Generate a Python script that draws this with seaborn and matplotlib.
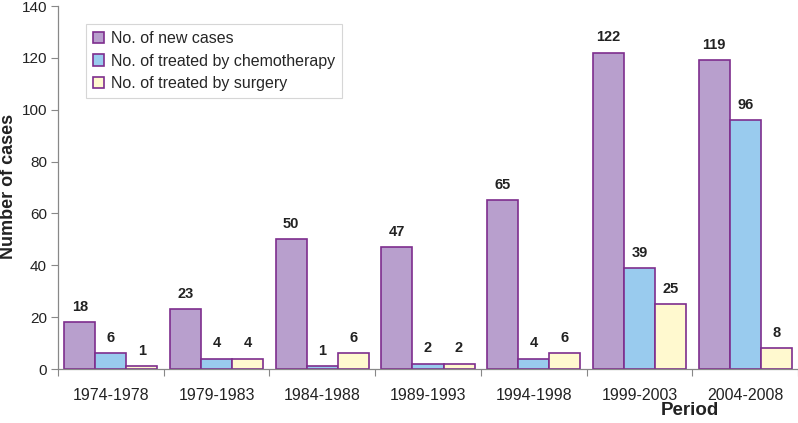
import matplotlib
matplotlib.use("Agg")
import matplotlib.pyplot as plt
import seaborn as sns
import pandas as pd
import numpy as np

periods = ["1974-1978", "1979-1983", "1984-1988", "1989-1993", "1994-1998", "1999-2003", "2004-2008"]
new_cases = [18, 23, 50, 47, 65, 122, 119]
chemo = [6, 4, 1, 2, 4, 39, 96]
surgery = [1, 4, 6, 2, 6, 25, 8]
series_names = ["No. of new cases", "No. of treated by chemotherapy", "No. of treated by surgery"]
colors = ["#B89FCD", "#99CBEE", "#FFF9CF"]

sns.set_theme(style="white")
plt.rcParams['font.family'] = ['Liberation Sans', 'DejaVu Sans']

df = pd.DataFrame({
    "Period": periods * 3,
    "Value": new_cases + chemo + surgery,
    "Series": [series_names[0]] * 7 + [series_names[1]] * 7 + [series_names[2]] * 7,
})

fig = plt.figure(figsize=(7.98, 4.23), dpi=100)
ax = fig.add_axes([58/798, 54/423, 740/798, 363/423])

sns.barplot(data=df, x="Period", y="Value", hue="Series", palette=colors,
            order=periods, hue_order=series_names, width=0.88, gap=0,
            edgecolor="#7E2E8E", linewidth=1.2, saturation=1, ax=ax)

for cont in ax.containers:
    ax.bar_label(cont, padding=6, fontsize=10.5, fontweight="bold", color="#222222")

ax.set_ylim(0, 140)
ax.set_yticks(np.arange(0, 141, 20))
ax.set_xlim(-0.5, len(periods) - 0.5)
ax.set_xticks(np.arange(-0.5, len(periods), 1.0))
ax.set_xticklabels([])
ax.set_xticks(np.arange(len(periods)), minor=True)
ax.set_xticklabels(periods, minor=True)
ax.tick_params(axis="x", which="major", length=5, width=0.8, color="#888888", direction="out", bottom=True)
ax.tick_params(axis="x", which="minor", length=0, labelsize=11.5, pad=14, colors="#222222")
ax.tick_params(axis="y", length=5, width=0.8, color="#888888", direction="out", left=True, labelsize=11, labelcolor="#222222", pad=3)

for s in ["top", "right"]:
    ax.spines[s].set_visible(False)
for s in ["left", "bottom"]:
    ax.spines[s].set_color("#888888")
    ax.spines[s].set_linewidth(0.9)

ax.set_ylabel("")
ax.set_xlabel("")
fig.text(9/798, 1 - 186/423, "Number of cases", fontsize=13, fontweight="bold", color="#222222",
         ha="center", va="center", rotation=90)
fig.text(690/798, 1 - 410/423, "Period", fontsize=13.5, fontweight="bold", color="#222222",
         ha="center", va="center")

leg = ax.legend(loc="upper left", bbox_to_anchor=(0.038, 0.95), borderaxespad=0,
                fontsize=11.5, frameon=True, fancybox=False, edgecolor="#CCCCCC",
                handlelength=0.7, handleheight=0.7, handletextpad=0.4,
                labelspacing=0.45, borderpad=0.45, title=None)
leg.get_frame().set_linewidth(0.8)

fig.savefig("out.png", dpi=100)
